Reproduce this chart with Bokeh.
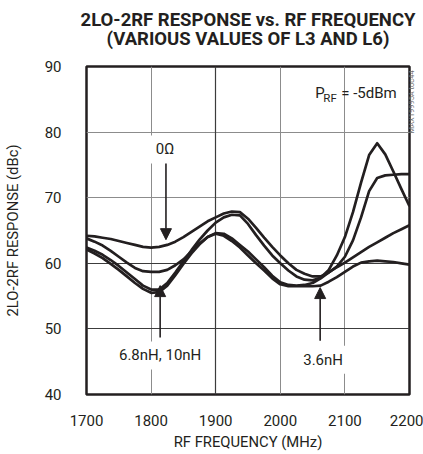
from bokeh.plotting import figure
from bokeh.models import Range1d, FixedTicker, Label, Arrow, NormalHead, Grid, LinearAxis, Title
from bokeh.embed import file_html
from bokeh.resources import INLINE

# ---------------- data ----------------
freq = [1700, 1712.5, 1725, 1737.5, 1750, 1762.5, 1775, 1787.5, 1800, 1812.5,
        1825, 1837.5, 1850, 1862.5, 1875, 1887.5, 1900, 1912.5, 1925, 1937.5,
        1950, 1962.5, 1975, 1987.5, 2000, 2012.5, 2025, 2037.5, 2050, 2062.5,
        2075, 2087.5, 2100, 2112.5, 2125, 2137.5, 2150, 2162.5, 2175, 2187.5, 2200]

# 0 ohm (upper curve at 1800 MHz)
resp_0ohm = [64.2, 64.1, 63.9, 63.7, 63.4, 63.1, 62.8, 62.5, 62.4, 62.5,
             62.8, 63.3, 64.0, 64.8, 65.6, 66.4, 67.0, 67.6, 67.9, 67.8,
             66.8, 65.4, 63.9, 62.5, 61.2, 60.0, 59.0, 58.4, 58.0, 58.0,
             58.6, 59.5, 61.0, 63.5, 67.0, 71.0, 73.0, 73.4, 73.5, 73.6, 73.6]
# 6.8nH
resp_6n8 = [62.4, 61.9, 61.3, 60.5, 59.6, 58.6, 57.6, 56.6, 56.0, 56.0,
            57.0, 58.6, 60.3, 62.0, 63.6, 65.0, 66.2, 67.0, 67.4, 67.3,
            66.0, 64.3, 62.7, 61.2, 60.0, 58.9, 58.0, 57.5, 57.4, 57.8,
            59.0, 61.2, 64.0, 67.8, 72.3, 76.5, 78.3, 76.6, 74.0, 71.3, 68.7]
# 10nH
resp_10n = [63.8, 63.3, 62.7, 61.9, 61.0, 60.1, 59.3, 58.8, 58.7, 58.7,
            59.0, 59.7, 60.6, 61.8, 63.0, 64.0, 64.6, 64.5, 63.8, 62.8,
            61.8, 60.6, 59.4, 58.1, 57.1, 56.7, 56.6, 56.7, 57.0, 57.7,
            58.6, 59.4, 60.1, 60.9, 61.7, 62.5, 63.2, 63.9, 64.6, 65.2, 65.8]
# 3.6nH
resp_3n6 = [62.1, 61.5, 60.8, 59.9, 59.0, 58.0, 57.0, 56.1, 55.5, 55.6,
            56.6, 58.2, 59.9, 61.5, 62.9, 64.0, 64.5, 64.2, 63.4, 62.4,
            61.2, 60.0, 58.9, 57.7, 56.8, 56.5, 56.5, 56.5, 56.5, 56.6,
            57.2, 57.9, 58.7, 59.5, 60.1, 60.3, 60.4, 60.3, 60.2, 60.0, 59.8]

x_ticks = [1700, 1800, 1900, 2000, 2100, 2200]
y_ticks = [40, 50, 60, 70, 80, 90]

title_lines = ["2LO-2RF RESPONSE vs. RF FREQUENCY", "(VARIOUS VALUES OF L3 AND L6)"]
x_title = "RF FREQUENCY (MHz)"
y_title = "2LO-2RF RESPONSE (dBc)"
figure_code = "MAX19995A toc44"

# ---------------- figure ----------------
INK = "#231f20"
FONT = "Roboto"

p = figure(width=423, height=454, x_range=Range1d(1700, 2200), y_range=Range1d(40, 90),
           output_backend="svg", toolbar_location=None, title=title_lines[0],
           min_border_left=82, min_border_right=12, min_border_top=66, min_border_bottom=60)
p.background_fill_color = "white"
p.border_fill_color = "white"
p.outline_line_color = INK
p.outline_line_width = 2.5

# title: line 1 (outermost), line 2, then a blank spacer panel next to the frame
title_style = dict(align="center", text_font=FONT, text_font_style="bold", text_color=INK)
p.title.align = "center"
p.title.text_font = FONT
p.title.text_font_style = "bold"
p.title.text_font_size = "18.5px"
p.title.text_color = INK
p.title.standoff = 9
p.add_layout(Title(text=" ", standoff=4, text_font_size="17.5px", **title_style), "above")
p.add_layout(Title(text=title_lines[1], standoff=-19, text_font_size="18.5px", **title_style), "above")

for ax in (p.xaxis[0], p.yaxis[0]):
    ax.axis_line_color = None
    ax.major_tick_line_color = None
    ax.minor_tick_line_color = None
    ax.major_label_text_font = FONT
    ax.major_label_text_font_size = "15px"
    ax.major_label_text_color = INK
    ax.axis_label_text_font = FONT
    ax.axis_label_text_font_size = "14.8px"
    ax.axis_label_text_font_style = "normal"
    ax.axis_label_text_color = INK
p.xaxis.ticker = FixedTicker(ticks=x_ticks)
p.yaxis.ticker = FixedTicker(ticks=y_ticks)
p.xaxis.major_label_standoff = 14
p.yaxis.major_label_standoff = 19
p.xaxis.axis_label = x_title
p.yaxis.axis_label = y_title
p.xaxis.axis_label_standoff = 4
p.yaxis.axis_label_standoff = 20

# figure code printed vertically just right of the frame
code_axis = LinearAxis(ticker=FixedTicker(ticks=[79.8]), major_label_overrides={79.8: figure_code},
                       major_label_orientation=1.5708, major_label_standoff=2,
                       major_tick_out=0, major_tick_in=0,
                       major_label_text_font=FONT, major_label_text_font_size="7.5px",
                       major_label_text_color="#707070", axis_line_color=None,
                       major_tick_line_color=None, minor_tick_line_color=None)
p.add_layout(code_axis, "right")

GRAY = "#8c8c8c"
DARK = "#3c3c3c"
p.xgrid.ticker = FixedTicker(ticks=[1800, 2000, 2100])
p.ygrid.ticker = FixedTicker(ticks=[70, 80])
for g in (p.xgrid[0], p.ygrid[0]):
    g.grid_line_color = GRAY
    g.grid_line_width = 1
p.add_layout(Grid(dimension=0, ticker=FixedTicker(ticks=[1900]), grid_line_color=DARK, grid_line_width=1.2))
p.add_layout(Grid(dimension=1, ticker=FixedTicker(ticks=[50, 60]), grid_line_color=DARK, grid_line_width=1.2))

for series in (resp_0ohm, resp_6n8, resp_10n, resp_3n6):
    p.line(freq, series, line_color=INK, line_width=2.7, line_join="round")

# ---------------- texts ----------------
# P_RF = -5dBm
p.add_layout(Label(x=2054.1, y=85.9, text="P", text_align="left", text_baseline="alphabetic",
                   text_font=FONT, text_font_size="15px", text_color=INK))
p.add_layout(Label(x=2066.6, y=85.2, text="RF", text_align="left", text_baseline="alphabetic",
                   text_font=FONT, text_font_size="11.5px", text_color=INK))
p.add_layout(Label(x=2180.2, y=85.9, text="= -5dBm", text_align="right", text_baseline="alphabetic",
                   text_font=FONT, text_font_size="15px", text_color=INK))

# curve annotations
def tag(x, y, txt):
    p.add_layout(Label(x=x, y=y, text=txt, text_align="center", text_baseline="middle",
                       text_font=FONT, text_font_size="15px", text_color=INK,
                       background_fill_color="white", padding=5))

tag(1821.6, 77.35, "0\u03a9")
tag(1814.0, 45.95, "6.8nH, 10nH")
tag(2066.3, 45.3, "3.6nH")

def arrow(x, y0, y1):
    p.add_layout(Arrow(x_start=x, y_start=y0, x_end=x, y_end=y1, line_color=INK, line_width=1.6,
                       end=NormalHead(size=11, fill_color=INK, line_color=INK, line_width=1)))

arrow(1823.0, 75.2, 63.6)
arrow(1814.0, 48.7, 56.6)
arrow(2061.7, 48.2, 56.3)

open("out.html", "w").write(file_html(p, INLINE))
